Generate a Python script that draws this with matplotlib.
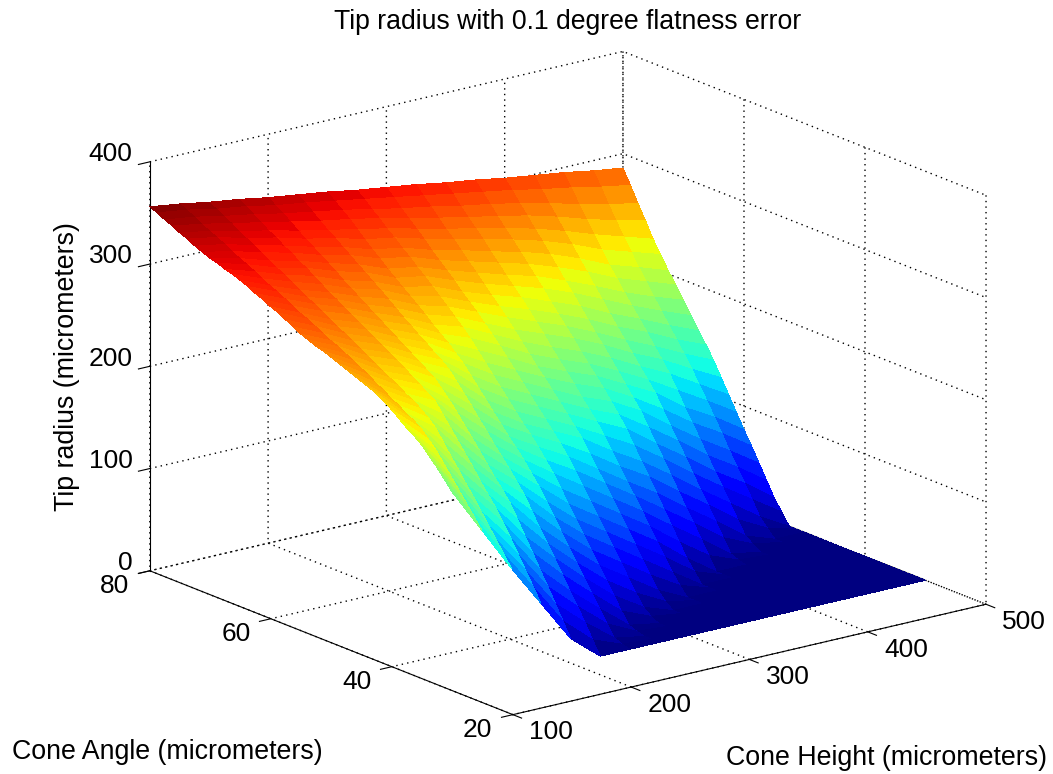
#!/usr/bin/env python3
# -*- coding: utf-8 -*-
"""
Tip radius surface. The table is an estimate: the surface edges and the colour
bands were read off the picture, values between those readings filled in by hand
along straight lines, so single cells are not exact readings.
"""
import numpy as np
import matplotlib
matplotlib.use('Agg')
import matplotlib.pyplot as plt

cone_height = [100, 125, 150, 175, 200, 225, 250, 275, 300, 325, 350, 375, 400, 425, 450, 475, 500]
cone_angle = [30, 31.25, 32.5, 33.75, 35, 36.25, 37.5, 38.75, 40, 41.25, 42.5, 43.75, 45, 46.25,
              47.5, 48.75, 50, 51.25, 52.5, 53.75, 55, 56.25, 57.5, 58.75, 60, 61.25, 62.5, 63.75,
              65, 66.25, 67.5, 68.75, 70, 71.25, 72.5, 73.75, 75, 76.25, 77.5, 78.75, 80]
# one row per cone angle, one column per cone height
tip_radius = [
    [194, 150, 106, 65, 24, 0, 0, 0, 0, 0, 0, 0, 0, 0, 0, 0, 0],
    [203, 160, 117, 78, 38, 13, 2, 0, 0, 0, 0, 0, 0, 0, 0, 0, 0],
    [212, 170, 128, 91, 52, 27, 5, 0, 0, 0, 0, 0, 0, 0, 0, 0, 0],
    [220, 180, 139, 104, 66, 40, 16, 2, 0, 0, 0, 0, 0, 0, 0, 0, 0],
    [228, 190, 150, 117, 79, 52, 28, 5, 0, 0, 0, 0, 0, 0, 0, 0, 0],
    [234, 200, 161, 129, 93, 65, 40, 16, 4, 0, 0, 0, 0, 0, 0, 0, 0],
    [239, 210, 171, 141, 106, 78, 52, 28, 10, 0, 0, 0, 0, 0, 0, 0, 0],
    [245, 218, 182, 151, 120, 90, 64, 40, 21, 6, 0, 0, 0, 0, 0, 0, 0],
    [251, 226, 192, 161, 133, 102, 76, 52, 33, 14, 0, 0, 0, 0, 0, 0, 0],
    [256, 231, 203, 172, 143, 115, 88, 64, 45, 26, 9, 0, 0, 0, 0, 0, 0],
    [261, 235, 214, 182, 152, 128, 100, 76, 57, 38, 19, 0, 0, 0, 0, 0, 0],
    [264, 240, 221, 192, 162, 138, 112, 88, 69, 50, 31, 10, 0, 0, 0, 0, 0],
    [267, 244, 227, 202, 172, 148, 124, 100, 81, 62, 43, 20, 0, 0, 0, 0, 0],
    [270, 249, 232, 212, 182, 157, 134, 112, 93, 74, 55, 33, 13, 2, 0, 0, 0],
    [273, 253, 236, 222, 191, 166, 144, 124, 105, 86, 67, 46, 26, 5, 0, 0, 0],
    [276, 258, 241, 227, 201, 176, 153, 134, 117, 98, 79, 59, 39, 18, 5, 0, 0],
    [279, 262, 245, 232, 210, 185, 161, 144, 128, 109, 90, 72, 51, 31, 10, 0, 0],
    [282, 266, 249, 237, 218, 195, 170, 153, 138, 121, 102, 85, 64, 44, 23, 8, 0],
    [284, 270, 253, 242, 226, 204, 179, 161, 147, 133, 114, 97, 77, 56, 36, 16, 0],
    [287, 274, 258, 247, 231, 213, 188, 170, 156, 142, 126, 110, 90, 69, 49, 30, 11],
    [290, 277, 262, 251, 236, 222, 197, 179, 165, 151, 137, 123, 102, 82, 61, 43, 22],
    [294, 281, 267, 256, 241, 228, 206, 188, 174, 160, 146, 134, 115, 95, 74, 56, 36],
    [298, 285, 271, 260, 246, 233, 215, 197, 183, 169, 155, 144, 128, 107, 87, 69, 50],
    [302, 289, 275, 265, 251, 239, 222, 206, 192, 178, 165, 154, 138, 120, 100, 83, 64],
    [305, 292, 279, 269, 256, 244, 229, 215, 201, 186, 174, 163, 148, 133, 112, 96, 77],
    [309, 296, 284, 274, 261, 250, 235, 224, 210, 195, 183, 172, 158, 143, 126, 109, 91],
    [312, 300, 288, 278, 266, 255, 241, 232, 218, 204, 192, 181, 168, 153, 139, 122, 105],
    [316, 304, 292, 283, 271, 261, 248, 239, 226, 213, 202, 191, 178, 163, 150, 134, 119],
    [319, 307, 296, 287, 276, 267, 254, 246, 234, 222, 211, 200, 187, 173, 160, 146, 133],
    [322, 311, 301, 292, 281, 273, 260, 253, 241, 230, 220, 209, 197, 183, 171, 157, 145],
    [324, 315, 305, 297, 286, 278, 266, 260, 248, 238, 229, 218, 207, 193, 181, 168, 156],
    [327, 319, 309, 302, 292, 284, 272, 267, 256, 246, 237, 228, 217, 204, 191, 179, 168],
    [329, 322, 313, 306, 297, 289, 278, 273, 263, 254, 245, 237, 226, 214, 201, 190, 180],
    [332, 326, 318, 311, 302, 295, 285, 280, 270, 262, 254, 246, 236, 225, 212, 202, 192],
    [335, 330, 322, 315, 307, 300, 291, 286, 277, 270, 262, 255, 246, 235, 222, 213, 203],
    [339, 334, 326, 320, 312, 306, 298, 293, 285, 278, 271, 264, 256, 246, 234, 225, 216],
    [342, 337, 330, 324, 317, 311, 305, 299, 292, 285, 279, 272, 265, 256, 246, 237, 228],
    [346, 341, 335, 329, 323, 317, 312, 306, 299, 293, 287, 281, 275, 267, 258, 250, 243],
    [349, 345, 339, 334, 328, 323, 318, 312, 306, 301, 295, 290, 284, 277, 270, 263, 257],
    [353, 349, 343, 339, 333, 329, 324, 319, 314, 309, 304, 299, 294, 288, 283, 277, 272],
    [356, 352, 347, 343, 338, 334, 330, 325, 321, 317, 312, 308, 303, 299, 295, 290, 286],
]
height_ticks = [100, 200, 300, 400, 500]
angle_ticks = [20, 40, 60, 80]
radius_ticks = [0, 100, 200, 300, 400]

plt.rcParams['font.family'] = ['Liberation Sans', 'DejaVu Sans']

fig = plt.figure(figsize=(10.53, 7.74), dpi=100)
ax = fig.add_axes([0.0294, -0.0084, 1, 1], projection='3d')
ax.set_proj_type('ortho')
ax.view_init(elev=17.7, azim=-127.5)
ax.set_box_aspect((596, 596, 429), zoom=1.187)

X, Y = np.meshgrid(cone_height, cone_angle)
Z = np.array(tip_radius, dtype=float)
surf = ax.plot_surface(X, Y, Z, rstride=1, cstride=1, cmap='jet', vmin=0, vmax=356,
                       linewidth=0, antialiased=False, shade=False)
# axes box is a centred square, the surface pokes out of it on the left
surf.set_clip_on(False)

ax.set_xlim(100, 500)
ax.set_ylim(20, 80)
ax.set_zlim(0, 400)
ax.set_xticks(height_ticks)
ax.set_yticks(angle_ticks)
ax.set_zticks(radius_ticks)
ax.tick_params(labelsize=19)
ax.tick_params(axis='x', pad=5)
ax.tick_params(axis='y', pad=4.5)
ax.tick_params(axis='z', pad=-2)

for axis in [ax.xaxis, ax.yaxis, ax.zaxis]:
    axis.set_pane_color((1, 1, 1, 0))
    axis.pane.set_edgecolor((1, 1, 1, 0))
    axis._axinfo['grid'].update(color='k', linestyle=(0, (1, 3)), linewidth=1.0)
    axis._axinfo['tick'].update(inward_factor=0.3, outward_factor=0)
    axis.line.set_color('k')

for labels, ha in [(ax.get_xticklabels(), 'left'),
                   (ax.get_yticklabels(), 'right'),
                   (ax.get_zticklabels(), 'right')]:
    for lab in labels:
        lab.set_ha(ha)
        lab.set_va('baseline')

fig.text(0.5394, 0.972, 'Tip radius with 0.1 degree flatness error', fontsize=19.2, ha='center', va='center')
fig.text(0.0114, 0.0284, 'Cone Angle (micrometers)', fontsize=19.3, ha='left', va='center')
fig.text(0.8423, 0.0207, 'Cone Height (micrometers)', fontsize=19.3, ha='center', va='center')
fig.text(0.0636, 0.527, 'Tip radius (micrometers)', fontsize=19.3, rotation=90, ha='center', va='center')

plt.savefig('out.png', dpi=100)
